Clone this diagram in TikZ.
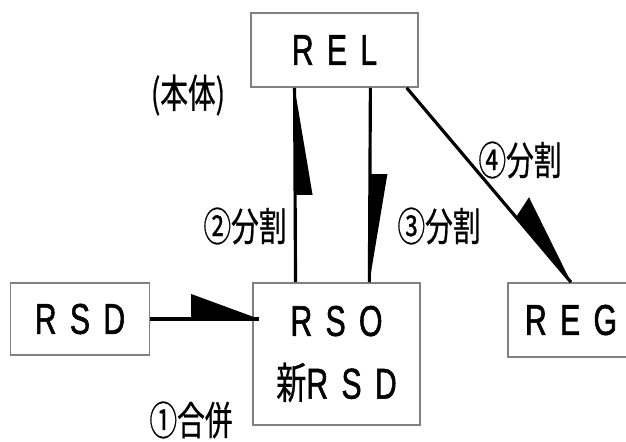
\documentclass[tikz,border=0pt]{standalone}
\usepackage{fontspec}
\setmainfont{Liberation Sans}
\newfontfamily\latf[FakeStretch=0.7,FakeBold=1.3]{Liberation Sans}
\newfontfamily\cjk[FakeStretch=0.7,FakeBold=0.6]{Noto Sans CJK JP}
\usetikzlibrary{calc}
\newcommand{\lsp}{\hspace{7.6pt}}
\begin{document}
\begin{tikzpicture}[x=0.02cm,y=-0.02cm,
  box/.style={draw=black!50, line width=0.9pt, inner sep=0pt, align=center,
    font=\latf\fontsize{24.5pt}{35.7pt}\selectfont},
  lab/.style={font=\cjk\fontsize{22.5pt}{26pt}\selectfont, inner sep=0pt},
  conn/.style={line width=1.8pt},
  head/.style={fill=black}]
\useasboundingbox (0,0) rectangle (626,441);
\clip (0,0) rectangle (626,441);

\node[box, minimum width=3.34cm, minimum height=1.48cm] (rel) at (334.5,50) {R\lsp E\lsp L};
\node[box, minimum width=2.78cm, minimum height=1.44cm] (rsd) at (80,319) {R\lsp S\lsp D};
\node[box, minimum width=3.34cm, minimum height=2.84cm] (rso) at (336.5,354) {R\lsp S\lsp O\\{\cjk 新}R\lsp S\lsp D};
\node[box, minimum width=2.52cm, minimum height=1.48cm] (reg) at (571,320) {R\lsp E\lsp G};

% 1 merge
\coordinate (c1) at ($(rsd.east -| rso.west)+(7,0)$);
\draw[conn] (rsd.east) -- (c1);
\fill[head] (c1) -- ++(-68,0) -- ++(0,-25) -- cycle;

% 2 split (up)
\coordinate (a2) at ($(rso.north west)!0.257!(rso.north east)$);
\coordinate (b2) at ($(rel.south west)!0.263!(rel.south east)$);
\draw[conn] (a2) -- (b2);
\fill[head] (b2) -- ++(0,107) -- ++(18,0) -- cycle;

% 3 split (down)
\coordinate (a3) at ($(rel.south west)!0.713!(rel.south east)$);
\coordinate (b3) at ($(rso.north west)!0.695!(rso.north east)$);
\draw[conn] (a3) -- (b3);
\fill[head] (b3) -- ++(0,-108) -- ++(18,0) -- cycle;

% 4 split (diagonal)
\coordinate (a4) at ($(rel.south west)!0.928!(rel.south east)$);
\coordinate (b4) at (reg.north);
\draw[conn] (a4) -- (b4);
\fill[head] (b4) -- ++(-55,-65) -- ++(13,-20) -- cycle;

\node[lab] (hontai) at (188,95) {(本体)};
\node[lab] (l1) at (191,420) {①合併};
\node[lab] (l2) at (245,226) {②分割};
\node[lab] (l3) at (439,226) {③分割};
\node[lab] (l4) at (520,160) {④分割};
\end{tikzpicture}
\end{document}
